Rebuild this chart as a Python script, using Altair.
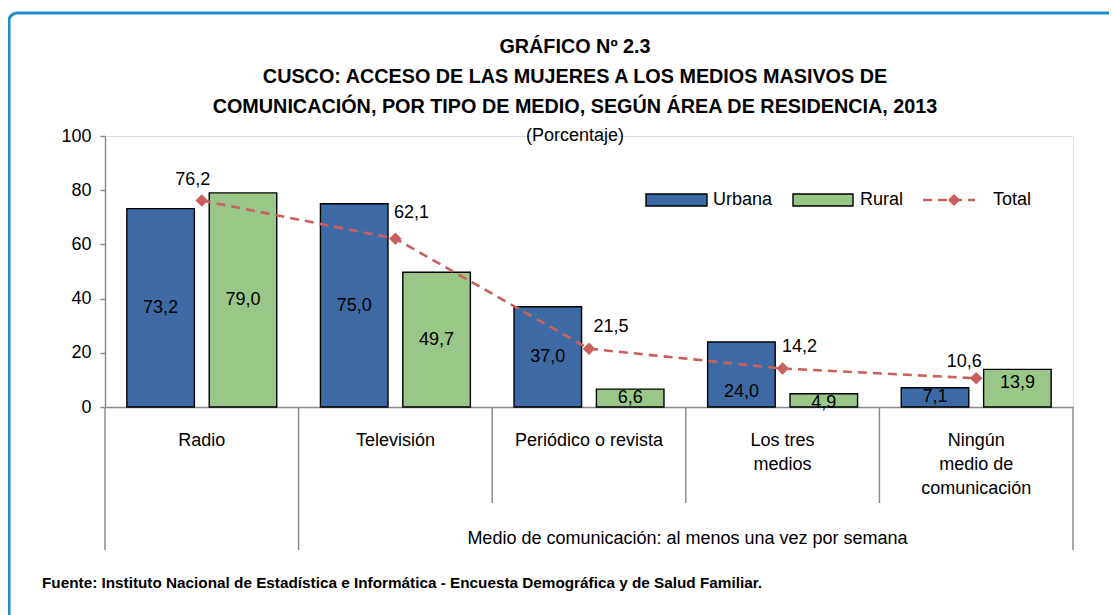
import altair as alt
import pandas as pd

# ---------------- data ----------------
categories = ["Radio", "Televisión", "Periódico o revista", "Los tres medios",
              "Ningún medio de comunicación"]
category_lines = [["Radio"], ["Televisión"], ["Periódico o revista"],
                  ["Los tres", "medios"], ["Ningún", "medio de", "comunicación"]]
series = ["Urbana", "Rural"]
urbana = [73.2, 75.0, 37.0, 24.0, 7.1]
rural = [79.0, 49.7, 6.6, 4.9, 13.9]
total = [76.2, 62.1, 21.5, 14.2, 10.6]
# where each bar's value label sits (in data units)
urbana_label_at = [36.6, 37.2, 18.3, 5.5, 3.7]
rural_label_at = [39.3, 24.6, 3.3, 1.5, 8.9]
y_ticks = [0, 20, 40, 60, 80, 100]

title_lines = ["GRÁFICO Nº 2.3",
               "CUSCO: ACCESO DE LAS MUJERES A LOS MEDIOS MASIVOS DE",
               "COMUNICACIÓN, POR TIPO DE MEDIO, SEGÚN ÁREA DE RESIDENCIA, 2013"]
subtitle = "(Porcentaje)"
x_title = "Medio de comunicación: al menos una vez por semana"
source = ("Fuente: Instituto Nacional de Estadística e Informática - "
          "Encuesta Demográfica y de Salud Familiar.")


def fmt(v):
    return f"{v:.1f}".replace(".", ",")


# ---------------- tables ----------------
bars_df = pd.DataFrame({
    "cat": categories * 2,
    "serie": ["Urbana"] * 5 + ["Rural"] * 5,
    "value": urbana + rural,
    "label_at": urbana_label_at + rural_label_at,
    "label": [fmt(v) for v in urbana + rural],
})
total_df = pd.DataFrame({"cat": categories, "total": total,
                         "label": [fmt(v) for v in total]})

# ---------------- style ----------------
FONT = "Liberation Sans, Arial, sans-serif"
W, H = 968, 271
BLUE = "#3D6AA5"
GREEN = "#9AC687"
RED = "#C9605E"
GRAY = "#8C8C8C"
FS = 18

label_expr = ""
for name, lines in zip(categories, category_lines):
    arr = "[" + ",".join("'" + l + "'" for l in lines) + "]"
    label_expr += f"datum.value == '{name}' ? {arr} : "
label_expr += "datum.value"

x_scale = alt.Scale(domain=categories, paddingInner=0, paddingOuter=0)
y_scale = alt.Scale(domain=[0, 100], nice=False)

x_enc = alt.X("cat:N", scale=x_scale, sort=categories,
              axis=alt.Axis(title=x_title, labelExpr=label_expr, labelAngle=0,
                            labelAlign="center",
                            ticks=False, domainColor=GRAY, domainWidth=1.5,
                            labelFont=FONT, labelFontSize=FS, labelColor="black",
                            labelLineHeight=24, labelPadding=24,
                            labelBaseline="top", labelLimit=300,
                            titleFont=FONT, titleFontSize=FS,
                            titleFontWeight="normal", titleColor="black",
                            titleX=582, titleY=131, titleAlign="center",
                            titleBaseline="middle"))
y_enc = alt.Y("value:Q", scale=y_scale,
              axis=alt.Axis(title=None, values=y_ticks, grid=False, tickSize=5,
                            tickColor=GRAY, tickWidth=1.5, domainColor=GRAY,
                            domainWidth=1.5, labelFont=FONT, labelFontSize=FS,
                            labelColor="black", labelPadding=9))
x_off = alt.XOffset("serie:N", sort=series,
                    scale=alt.Scale(domain=series, paddingInner=0.18,
                                    paddingOuter=0.265))

bars = alt.Chart(bars_df).mark_bar(stroke="black", strokeWidth=1.4).encode(
    x=x_enc, xOffset=x_off, y=y_enc,
    color=alt.Color("serie:N", scale=alt.Scale(domain=series, range=[BLUE, GREEN]),
                    legend=None),
)
bar_labels = alt.Chart(bars_df).mark_text(font=FONT, fontSize=FS, color="black",
                                          baseline="middle").encode(
    x=alt.X("cat:N", scale=x_scale, sort=categories), xOffset=x_off,
    y=alt.Y("label_at:Q", scale=y_scale), text="label:N")

line = alt.Chart(total_df).mark_line(color=RED, strokeWidth=2.6,
                                     strokeDash=[9, 6]).encode(
    x=alt.X("cat:N", scale=x_scale, sort=categories),
    y=alt.Y("total:Q", scale=y_scale))
pts = alt.Chart(total_df).mark_point(shape="diamond", filled=True, color=RED,
                                     size=160, opacity=1).encode(
    x=alt.X("cat:N", scale=x_scale, sort=categories),
    y=alt.Y("total:Q", scale=y_scale))

total_label_offsets = [(-9, -20), (16, -26), (22, -22), (17, -22), (-12, -16)]
total_labels = []
for i, (dx, dy) in enumerate(total_label_offsets):
    total_labels.append(
        alt.Chart(total_df.iloc[[i]]).mark_text(
            font=FONT, fontSize=FS, color="black", dx=dx, dy=dy,
            baseline="middle").encode(
            x=alt.X("cat:N", scale=x_scale, sort=categories),
            y=alt.Y("total:Q", scale=y_scale), text="label:N"))

# separators of the category table below the axis
sep_tall = alt.Chart(pd.DataFrame({"cat": categories[:2]})).mark_rule(
    color=GRAY, strokeWidth=1.5).encode(
    x=alt.X("cat:N", scale=x_scale, sort=categories, bandPosition=0),
    y=alt.value(H), y2=alt.value(H + 143))
sep_short = alt.Chart(pd.DataFrame({"cat": categories[2:]})).mark_rule(
    color=GRAY, strokeWidth=1.5).encode(
    x=alt.X("cat:N", scale=x_scale, sort=categories, bandPosition=0),
    y=alt.value(H), y2=alt.value(H + 96))
sep_end = alt.Chart(pd.DataFrame({"cat": categories[-1:]})).mark_rule(
    color=GRAY, strokeWidth=1.5).encode(
    x=alt.X("cat:N", scale=x_scale, sort=categories, bandPosition=1),
    y=alt.value(H), y2=alt.value(H + 143))

one = pd.DataFrame({"a": [0]})
# legend
leg_u = alt.Chart(one).mark_rect(fill=BLUE, stroke="black", strokeWidth=1.4).encode(
    x=alt.value(541), x2=alt.value(602), y=alt.value(58), y2=alt.value(70))
leg_r = alt.Chart(one).mark_rect(fill=GREEN, stroke="black", strokeWidth=1.4).encode(
    x=alt.value(688), x2=alt.value(748), y=alt.value(58), y2=alt.value(70))
leg_l = alt.Chart(one).mark_rule(color=RED, strokeWidth=2.6, strokeDash=[9, 6]).encode(
    x=alt.value(818), x2=alt.value(870), y=alt.value(64))
leg_p = alt.Chart(one).mark_point(shape="diamond", filled=True, color=RED,
                                  size=150, opacity=1).encode(
    x=alt.value(849), y=alt.value(64))
leg_t = [
    alt.Chart(one).mark_text(font=FONT, fontSize=FS, color="black", align="left",
                             baseline="middle").encode(
        x=alt.value(xx), y=alt.value(64), text=alt.value(tt))
    for xx, tt in [(608, "Urbana"), (755, "Rural"), (888, "Total")]
]

# title block (drawn as text above the plot)
title_marks = [
    alt.Chart(one).mark_text(font=FONT, fontSize=19.8, fontWeight="bold",
                             color="black", align="center",
                             baseline="middle").encode(
        x=alt.value(470), y=alt.value(yy), text=alt.value(tt))
    for yy, tt in zip([-89, -59, -29], title_lines)
]
subtitle_mark = alt.Chart(one).mark_text(font=FONT, fontSize=FS, color="black",
                                         align="center", baseline="middle").encode(
    x=alt.value(470), y=alt.value(0), text=alt.value(subtitle))

border = alt.Chart(one).mark_rect(fillOpacity=0, stroke="#2190C8", strokeWidth=3,
                                  cornerRadius=8).encode(
    x=alt.value(-96), x2=alt.value(1030), y=alt.value(-123), y2=alt.value(490))
footer = alt.Chart(one).mark_text(font=FONT, fontSize=15.3, fontWeight="bold",
                                  color="black", align="left",
                                  baseline="middle").encode(
    x=alt.value(-63), y=alt.value(447), text=alt.value(source))

chart = alt.layer(
    border, sep_tall, sep_short, sep_end, bars, bar_labels, line, pts,
    *total_labels, leg_u, leg_r, leg_l, leg_p, *leg_t, *title_marks,
    subtitle_mark, footer,
).properties(
    width=W, height=H,
    autosize=alt.AutoSizeParams(type="none"),
    padding={"left": 97, "top": 128, "right": 36, "bottom": 208},
).configure_view(strokeWidth=0).configure(background="white")

chart.save("out.html", embed_options={"renderer": "svg", "actions": False})
